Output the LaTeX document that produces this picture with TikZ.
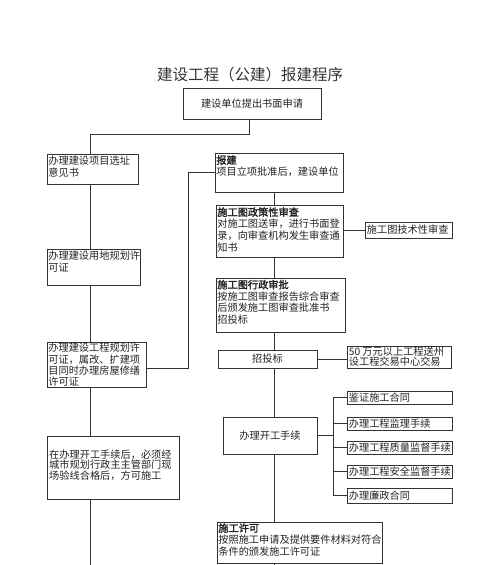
\documentclass[tikz,border=0pt]{standalone}
\usepackage{fontspec}
\setmainfont{Noto Sans CJK SC}[AutoFakeBold=2]
\usetikzlibrary{fit}
\definecolor{linec}{HTML}{333333}
\definecolor{textc}{HTML}{222222}
\definecolor{titlec}{HTML}{333333}
\tikzset{
  box/.style={draw=linec, line width=0.7pt, inner sep=0pt},
  txt/.style={anchor=north west, align=left, inner sep=0pt, text=textc, font=\fontsize{10.2}{11.7}\selectfont},
  ctxt/.style={anchor=center, align=center, inner sep=0pt, text=textc, font=\fontsize{10.2}{11.7}\selectfont},
  ltxt/.style={anchor=west, align=left, inner sep=0pt, text=textc, font=\fontsize{10.2}{11.7}\selectfont},
  conn/.style={draw=linec, line width=0.7pt},
}
\begin{document}
\begin{tikzpicture}[x=1pt,y=-1pt]
\useasboundingbox (0,0) rectangle (500,565);
% title
\node[text=titlec, font=\fontsize{15.5}{18}\selectfont, inner sep=0pt] (title) at (250,75) {建设工程（公建）报建程序};
% boxes
\node[box, fit={(183,88) (321,119)}] (top) {};
\node[ctxt] (toptxt) at (top.center) {建设单位提出书面申请};

\node[box, fit={(47,154) (138,184)}] (l1) {};
\node[txt] (l1t) at ([xshift=1.5pt,yshift=-2.5pt]l1.north west) {办理建设项目选址\\意见书};
\node[box, fit={(47,249) (140,285)}] (l2) {};
\node[txt] (l2t) at ([xshift=1.5pt,yshift=-2.5pt]l2.north west) {办理建设用地规划许\\可证};
\node[box, fit={(47,342) (146,387)}] (l3) {};
\node[txt, font=\fontsize{10.2}{11.2}\selectfont] (l3t) at ([xshift=1.5pt,yshift=-1.5pt]l3.north west) {办理建设工程规划许\\可证，属改、扩建项\\目同时办理房屋修缮\\许可证};
\node[box, fit={(47,436) (179,499)}] (l4) {};
\node[ltxt, font=\fontsize{10.2}{10.6}\selectfont] (l4t) at (49,465) {在办理开工手续后，必须经\\城市规划行政主主管部门现\\场验线合格后，方可施工};

\node[box, fit={(215,153) (343,192)}] (r1) {};
\node[txt] (r1t) at ([xshift=1.5pt,yshift=-2.5pt]r1.north west) {\textbf{报建}\\项目立项批准后，建设单位};
\node[box, fit={(216,205) (343,257)}] (r2) {};
\node[txt] (r2t) at ([xshift=1.5pt,yshift=-2.5pt]r2.north west) {\textbf{施工图政策性审查}\\对施工图送审，进行书面登\\录，向审查机构发生审查通\\知书};
\node[box, fit={(365,222) (452,238)}] (r2b) {};
\node[ltxt] (r2bt) at ([xshift=2pt]r2b.west) {施工图技术性审查};
\node[box, fit={(216,278) (345,332)}] (r3) {};
\node[txt] (r3t) at ([xshift=1.5pt,yshift=-2pt]r3.north west) {\textbf{施工图行政审批}\\按施工图审查报告综合审查\\后颁发施工图审查批准书\\招投标};
\node[box, fit={(218,350) (317,368)}] (r4) {};
\node[ctxt] (r4t) at (r4.center) {招投标};
\node[box, fit={(347,346) (451,368)}] (r4b) {};
\node[ltxt, font=\fontsize{10.2}{10.2}\selectfont] (r4bt) at ([xshift=2pt]r4b.west) {50 万元以上工程送州\\设工程交易中心交易};
\node[box, fit={(223,417) (317,454)}] (r5) {};
\node[ctxt] (r5t) at (r5.center) {办理开工手续};
\node[box, fit={(347,391) (452,404)}] (s1) {};
\node[ltxt] (s1t) at ([xshift=2pt]s1.west) {鉴证施工合同};
\node[box, fit={(347,417) (452,430)}] (s2) {};
\node[ltxt] (s2t) at ([xshift=2pt]s2.west) {办理工程监理手续};
\node[box, fit={(347,441) (452,454)}] (s3) {};
\node[ltxt] (s3t) at ([xshift=2pt]s3.west) {办理工程质量监督手续};
\node[box, fit={(347,465) (452,478)}] (s4) {};
\node[ltxt] (s4t) at ([xshift=2pt]s4.west) {办理工程安全监督手续};
\node[box, fit={(347,488) (452,503)}] (s5) {};
\node[ltxt] (s5t) at ([xshift=2pt]s5.west) {办理廉政合同};
\node[box, fit={(217,522) (382,563)}] (r6) {};
\node[txt] (r6t) at ([xshift=1.5pt,yshift=-1.5pt]r6.north west) {\textbf{施工许可}\\按照施工申请及提供要件材料对符合\\条件的颁发施工许可证};

% coordinates
\coordinate (ta) at (249,119);
\coordinate (tb) at (249,134);
\coordinate (lx) at (90,0);
\coordinate (cx) at (274,0);
\coordinate (bx) at (333,0);
\coordinate (jx) at (188,0);
\coordinate (lend) at (90,565);
\coordinate (cend) at (274,565);

% connectors
\draw[conn] (ta) -- (tb) -| (l1.north -| lx);
\draw[conn] (l1.south -| lx) -- (l2.north -| lx);
\draw[conn] (l2.south -| lx) -- (l3.north -| lx);
\draw[conn] (l3.south -| lx) -- (l4.north -| lx);
\draw[conn] (l4.south -| lx) -- (lend);
\draw[conn] (l3.east |- 0,368) -| (jx |- 0,172) -- (r1.west |- 0,172);

\draw[conn] (r1.south -| cx) -- (r2.north -| cx);
\draw[conn] (r2.south -| cx) -- (r3.north -| cx);
\draw[conn] (r3.south -| cx) -- (r4.north -| cx);
\draw[conn] (r4.south -| cx) -- (r5.north -| cx);
\draw[conn] (r5.south -| cx) -- (r6.north -| cx);
\draw[conn] (r6.south -| cx) -- (cend);

\draw[conn] (r2.east |- r2b.west) -- (r2b.west);
\draw[conn] (r4.east |- 0,359) -- (r4b.west |- 0,359);
\draw[conn] (r5.east) -- (r5.east -| bx);
\draw[conn] (s1.west -| bx) -- (s5.west -| bx);
\draw[conn] (s1.west -| bx) -- (s1.west);
\draw[conn] (s2.west -| bx) -- (s2.west);
\draw[conn] (s3.west -| bx) -- (s3.west);
\draw[conn] (s4.west -| bx) -- (s4.west);
\draw[conn] (s5.west -| bx) -- (s5.west);
\end{tikzpicture}
\end{document}
